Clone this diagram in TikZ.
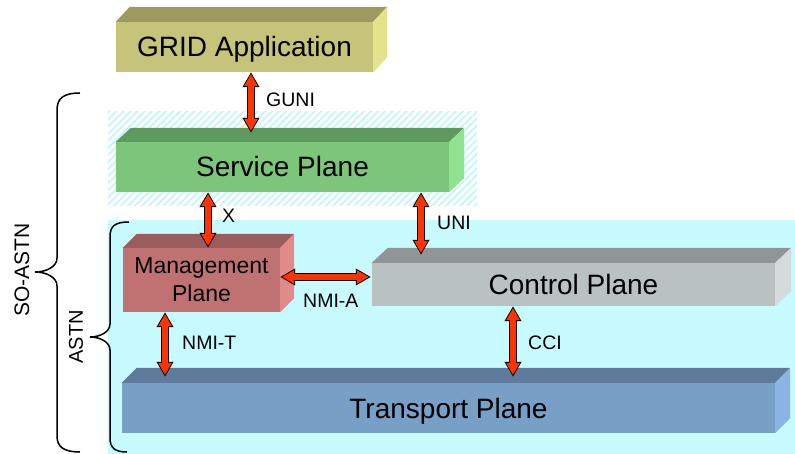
\documentclass[tikz,border=0pt]{standalone}
\usepackage{fontspec}
\setmainfont{Liberation Sans}
\usetikzlibrary{calc,arrows.meta,patterns.meta}

\definecolor{gridfront}{HTML}{C6C37A}
\definecolor{gridtop}{HTML}{9C9A5E}
\definecolor{gridside}{HTML}{E3E38C}
\definecolor{svcfront}{HTML}{7DC57B}
\definecolor{svctop}{HTML}{5E9A5E}
\definecolor{svcside}{HTML}{90E290}
\definecolor{mgmtfront}{HTML}{C07272}
\definecolor{mgmttop}{HTML}{9A5C5C}
\definecolor{mgmtside}{HTML}{E08A8A}
\definecolor{ctrlfront}{HTML}{B9C1C1}
\definecolor{ctrltop}{HTML}{909595}
\definecolor{ctrlside}{HTML}{D5DBDB}
\definecolor{transfront}{HTML}{789FC6}
\definecolor{transtop}{HTML}{5F7B9C}
\definecolor{transside}{HTML}{8CB4E2}
\definecolor{astnbg}{HTML}{C8FBFF}
\definecolor{hatchcyan}{HTML}{C4F5FA}
\definecolor{linkred}{HTML}{FF3300}

% top and right faces of a plane: node, depth x, depth y, top colour, side colour
\newcommand\slab[5]{%
  \fill[#4] (#1.north west) -- ++(#2,-#3) -- ($(#1.north east)+(#2,-#3)$) -- (#1.north east) -- cycle;
  \fill[#5] (#1.north east) -- ++(#2,-#3) -- ($(#1.south east)+(#2,-#3)$) -- (#1.south east) -- cycle;
}

\tikzset{
  plane/.style={inner sep=0pt, align=center, text height=20pt, text depth=0pt,
    font=\fontsize{28}{30}\selectfont},
  lbl/.style={inner sep=0pt, anchor=west, font=\fontsize{19.5}{21}\selectfont},
  linkback/.style={draw=black, line width=8pt,
    {Triangle[width=16pt,length=15pt]}-{Triangle[width=16pt,length=15pt]}},
  link/.style={draw=linkred, line width=5.6pt, shorten <=1.8pt, shorten >=1.8pt,
    {Triangle[width=12.6pt,length=12pt]}-{Triangle[width=12.6pt,length=12pt]}},
}

\begin{document}
\begin{tikzpicture}[x=1pt,y=-1pt]
  \useasboundingbox (0,0) rectangle (795,454);

  % regions
  \fill[astnbg] (108,220) rectangle (795,454);
  \fill[pattern={Lines[angle=45,distance=5pt,line width=1.8pt]}, pattern color=hatchcyan]
    (108,112) rectangle (477,206);

  % planes
  \node[plane, fill=gridfront, minimum width=257pt, minimum height=50pt] (grid) at (244.5,47) {GRID Application};
  \slab{grid}{14}{15}{gridtop}{gridside}
  \node[plane, fill=svcfront, minimum width=333pt, minimum height=50pt] (svc) at (282.5,167) {Service Plane};
  \slab{svc}{15}{14}{svctop}{svcside}
  \node[plane, fill=mgmtfront, minimum width=157pt, minimum height=64pt, text height=, text depth=,
        font=\fontsize{23}{28}\selectfont] (mgmt) at (201.5,280) {Management\\Plane};
  \slab{mgmt}{14}{14}{mgmttop}{mgmtside}
  \node[plane, fill=ctrlfront, minimum width=403pt, minimum height=43pt] (ctrl) at (573.5,284.5) {Control Plane};
  \slab{ctrl}{16}{15}{ctrltop}{ctrlside}
  \node[plane, fill=transfront, minimum width=653pt, minimum height=50pt] (trans) at (448.5,408) {Transport Plane};
  \slab{trans}{15}{15}{transtop}{transside}

  % interfaces
  \foreach \pass in {linkback,link} {
    \draw[\pass] ($(grid.south)+(6.5,0)$) -- ($(svc.north)+(-31.5,-9)$);
    \draw[\pass] ($(svc.south)+(-74.5,0)$) -- ($(mgmt.north)+(6.5,0)$);
    \draw[\pass] ($(svc.south)+(138.5,0)$) -- ($(ctrl.north)+(-152.5,-8)$);
    \draw[\pass] ($(mgmt.east)+(0,-3)$) -- ($(ctrl.west)+(-1,-7.5)$);
    \draw[\pass] ($(mgmt.south)+(-36.5,0)$) -- ($(trans.north)+(-283.5,-6)$);
    \draw[\pass] ($(ctrl.south)+(-60.5,0)$) -- ($(trans.north)+(64.5,-6)$);
  }
  \node[lbl] (guni) at (266,100) {GUNI};
  \node[lbl] (x) at (222,216) {X};
  \node[lbl] (uni) at (437,223) {UNI};
  \node[lbl] (nmia) at (303,301) {NMI-A};
  \node[lbl] (nmit) at (182,343) {NMI-T};
  \node[lbl] (cci) at (528,343) {CCI};

  % braces
  \draw[line width=1.5pt] (80,93) .. controls (64,93) and (57,98) .. (57,110) -- (57,258)
    .. controls (57,267) and (46,272) .. (35,272) .. controls (46,272) and (57,277) .. (57,286)
    -- (57,436) .. controls (57,447) and (64,452) .. (80,452);
  \draw[line width=1.5pt] (129,222) .. controls (115,222) and (110,226) .. (110,237) -- (110,324)
    .. controls (110,332) and (100,337) .. (90,337) .. controls (100,337) and (110,342) .. (110,350)
    -- (110,438) .. controls (110,448) and (115,452) .. (127,452);
  \node[rotate=90, inner sep=0pt, font=\fontsize{21}{23}\selectfont] (soastn) at (22,270) {SO-ASTN};
  \node[rotate=90, inner sep=0pt, font=\fontsize{20}{22}\selectfont] (astn) at (76,337) {ASTN};
\end{tikzpicture}
\end{document}
